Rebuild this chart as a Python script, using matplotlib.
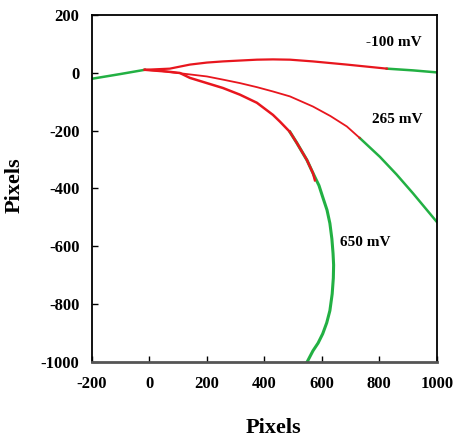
import numpy as np
import matplotlib.pyplot as plt

plt.rcParams['font.family'] = ['Liberation Serif', 'DejaVu Serif']
plt.rcParams['font.weight'] = 'bold'
plt.rcParams['axes.unicode_minus'] = False

RED = '#e8161e'
GREEN = '#22b043'

# common green lead-in, from the left edge to the origin
lead_x = [-200, -103, -16]
lead_y = [-21, -5, 10]

# -100 mV
m100_red_x = [-16, 71, 141, 200, 256, 315, 374, 430, 489, 569, 687, 826]
m100_red_y = [10, 14, 28, 35, 39, 42, 45, 46, 45, 39, 28, 14]
m100_grn_x = [826, 917, 1000]
m100_grn_y = [14, 8, 1]

# 265 mV
p265_red_x = [-16, 40, 82, 141, 200, 256, 315, 374, 430, 489, 569, 630, 687, 732]
p265_red_y = [10, 6, 1, -6, -13, -24, -36, -50, -65, -82, -117, -150, -186, -226]
p265_grn_x = [732, 802, 860, 917, 1000]
p265_grn_y = [-226, -291, -352, -417, -516]

# 650 mV
p650_red_x = [-16, 60, 106, 141, 200, 256, 315, 374, 430, 454, 489, 513, 548, 569, 576]
p650_red_y = [10, 4, -1, -18, -36, -53, -76, -104, -146, -169, -205, -243, -302, -347, -372]
p650_grn_x = [489, 513, 548, 569, 590, 603, 618, 628, 635, 639, 641, 640, 636, 628, 617, 603, 587, 569, 548]
p650_grn_y = [-205, -243, -302, -347, -390, -430, -475, -521, -575, -625, -665, -710, -765, -823, -865, -903, -935, -962, -1002]

labels = ['-100 mV', '265 mV', '650 mV']
label_x = [850, 861, 750]
label_y = [105, -163, -586]

fig = plt.figure(figsize=(4.55, 4.37), dpi=100)
ax = fig.add_axes([0.202, 0.172, 0.758, 0.794])

ax.plot(lead_x, lead_y, color=GREEN, lw=1.8)
ax.plot(m100_grn_x, m100_grn_y, color=GREEN, lw=1.8)
ax.plot(p265_grn_x, p265_grn_y, color=GREEN, lw=1.8)
ax.plot(p650_grn_x, p650_grn_y, color=GREEN, lw=2.2)
ax.plot(m100_red_x, m100_red_y, color=RED, lw=1.6)
ax.plot(p265_red_x, p265_red_y, color=RED, lw=1.3)
ax.plot(p650_red_x, p650_red_y, color=RED, lw=1.8)

for t, x, y in zip(labels, label_x, label_y):
    ax.text(x, y, t, fontsize=11, fontweight='bold', ha='center', va='center')

ax.set_xlim(-200, 1000)
ax.set_ylim(-1000, 200)
ax.set_xticks(np.arange(-200, 1001, 200))
ax.set_yticks(np.arange(-1000, 201, 200))
ax.tick_params(direction='in', length=4, width=1, labelsize=12)
ax.tick_params(axis='x', pad=10)
ax.tick_params(axis='y', pad=9)
for lab in ax.get_xticklabels() + ax.get_yticklabels():
    lab.set_fontweight('bold')
for s in ax.spines.values():
    s.set_linewidth(1.3)
ax.spines['bottom'].set_color('#555555')
ax.spines['bottom'].set_linewidth(2)

ax.set_xlabel('Pixels', fontsize=16, fontweight='bold')
ax.set_ylabel('Pixels', fontsize=16, fontweight='bold')
ax.xaxis.set_label_coords(0.525, -0.163)
ax.yaxis.set_label_coords(-0.194, 0.51)

fig.savefig('out.png', dpi=100)
